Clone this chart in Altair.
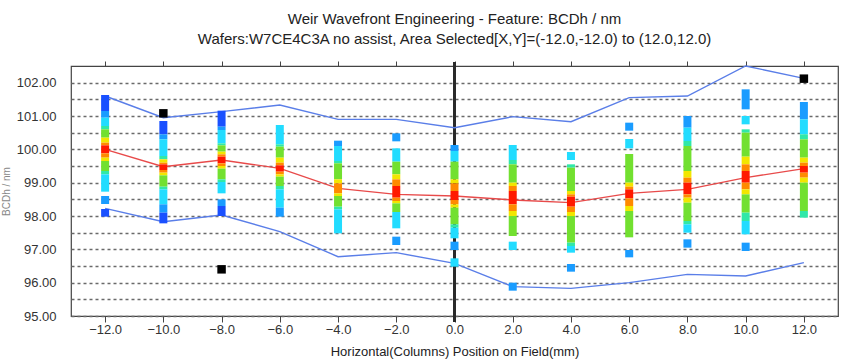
import altair as alt
import pandas as pd

# ---------------- data ----------------
columns = [-12, -10, -8, -6, -4, -2, 0, 2, 4, 6, 8, 10, 12]
mean_line = [100.0, 99.48, 99.68, 99.43, 98.83, 98.65, 98.6, 98.48, 98.4, 98.68, 98.8, 99.15, 99.42]
upper_line = [101.6, 100.95, 101.13, 101.33, 100.9, 100.9, 100.65, 100.98, 100.83, 101.55, 101.6, 102.5, 102.13]
lower_line = [98.23, 97.83, 98.03, 97.53, 96.78, 96.9, 96.58, 95.88, 95.83, 96.0, 96.25, 96.2, 96.6]

outlier_x = [-10, -8, 12]
outlier_y = [101.08, 96.4, 102.12]

x_ticks = [-12, -10, -8, -6, -4, -2, 0, 2, 4, 6, 8, 10, 12]
y_ticks = [95.0, 95.5, 96.0, 96.5, 97.0, 97.5, 98.0, 98.5, 99.0, 99.5,
           100.0, 100.5, 101.0, 101.5, 102.0]

# colour bands per column: [top, bottom, level]  (0 red ... 7 blue)
seg_m12 = [[101.63, 101.15, 7], [101.15, 100.95, 6], [100.95, 100.7, 5], [100.7, 100.6, 4],
           [100.6, 100.35, 3], [100.35, 100.2, 2], [100.2, 100.12, 1], [100.12, 99.88, 0],
           [99.88, 99.75, 1], [99.75, 99.65, 2], [99.65, 99.35, 3], [99.35, 99.25, 4],
           [99.25, 98.73, 5], [98.6, 98.36, 6], [98.21, 97.98, 7]]
seg_m10 = [[100.85, 100.45, 7], [100.45, 100.3, 6], [100.3, 99.8, 5], [99.8, 99.7, 4],
           [99.7, 99.6, 2], [99.6, 99.55, 1], [99.55, 99.38, 0], [99.38, 99.3, 1],
           [99.3, 99.22, 2], [99.22, 98.88, 3], [98.88, 98.8, 4], [98.8, 98.35, 5],
           [98.35, 98.1, 6], [98.1, 97.78, 7]]
seg_m8 = [[101.16, 100.68, 7], [100.68, 100.58, 6], [100.58, 100.18, 5], [100.18, 100.12, 4],
          [100.12, 99.93, 3], [99.93, 99.85, 2], [99.85, 99.78, 1], [99.78, 99.58, 0],
          [99.58, 99.5, 1], [99.5, 99.42, 2], [99.42, 99.1, 3], [99.1, 99.02, 4],
          [99.02, 98.68, 5], [98.5, 98.3, 6], [98.3, 98.0, 7]]
seg_m6 = [[100.73, 100.15, 5], [100.15, 100.08, 4], [100.08, 99.75, 3], [99.75, 99.6, 2],
          [99.6, 99.52, 1], [99.52, 99.33, 0], [99.33, 99.25, 1], [99.25, 99.18, 2],
          [99.18, 98.9, 3], [98.9, 98.8, 4], [98.8, 98.25, 5], [98.25, 97.98, 6]]
seg_m4 = [[100.26, 100.1, 6], [100.1, 99.65, 5], [99.65, 99.58, 4], [99.58, 99.1, 3],
          [99.1, 98.98, 2], [98.98, 98.68, 1], [98.68, 98.6, 2], [98.6, 98.28, 3],
          [98.28, 98.2, 4], [98.2, 97.48, 5]]
seg_m2 = [[100.48, 100.24, 6], [100.03, 99.63, 5], [99.63, 99.25, 3], [99.25, 99.1, 2],
          [99.1, 98.9, 1], [98.9, 98.55, 0], [98.55, 98.45, 1], [98.45, 98.38, 2],
          [98.38, 98.12, 3], [98.12, 97.63, 5], [97.38, 97.13, 6]]
seg_0 = [[100.13, 99.95, 6], [99.95, 99.63, 5], [99.63, 99.1, 3], [99.1, 98.98, 2],
         [98.98, 98.75, 1], [98.75, 98.48, 0], [98.48, 98.35, 1], [98.35, 98.25, 2],
         [98.25, 97.75, 3], [97.75, 97.65, 4], [97.65, 97.33, 5], [97.23, 96.98, 6],
         [96.73, 96.48, 5]]
seg_p2 = [[100.13, 99.68, 5], [99.68, 99.55, 4], [99.55, 99.0, 3], [99.0, 98.9, 2],
          [98.9, 98.75, 1], [98.75, 98.35, 0], [98.35, 98.15, 1], [98.15, 98.0, 2],
          [98.0, 97.4, 3], [97.23, 96.98, 5], [96.0, 95.76, 6]]
seg_p4 = [[99.92, 99.68, 5], [99.55, 99.45, 4], [99.45, 98.75, 3], [98.75, 98.65, 2],
          [98.65, 98.58, 1], [98.58, 98.28, 0], [98.28, 98.12, 1], [98.12, 98.0, 2],
          [98.0, 97.2, 3], [97.2, 97.1, 4], [97.1, 96.9, 5], [96.56, 96.33, 6]]
seg_p6 = [[100.8, 100.56, 6], [100.31, 100.03, 5], [99.86, 99.0, 3], [99.0, 98.88, 2],
          [98.88, 98.8, 1], [98.8, 98.53, 0], [98.53, 98.3, 1], [98.3, 98.15, 2],
          [98.15, 97.36, 3], [96.98, 96.76, 6]]
seg_p8 = [[101.0, 100.65, 6], [100.65, 100.25, 5], [100.25, 100.1, 4], [100.1, 99.35, 3],
          [99.35, 99.15, 2], [99.15, 99.0, 1], [99.0, 98.65, 0], [98.65, 98.55, 1],
          [98.55, 98.4, 2], [98.4, 97.85, 3], [97.85, 97.75, 4], [97.75, 97.5, 5],
          [97.3, 97.05, 6]]
seg_p10 = [[101.8, 101.2, 6], [101.0, 100.75, 5], [100.6, 100.5, 4], [100.5, 99.78, 3],
           [99.78, 99.55, 2], [99.55, 99.35, 1], [99.35, 99.0, 0], [99.0, 98.8, 1],
           [98.8, 98.65, 2], [98.65, 98.1, 3], [98.1, 97.85, 4], [97.85, 97.45, 5],
           [97.2, 96.95, 6]]
seg_p12 = [[101.42, 100.9, 6], [100.9, 100.45, 5], [100.45, 100.3, 4], [100.3, 99.75, 3],
           [99.75, 99.6, 2], [99.6, 99.5, 1], [99.5, 99.3, 0], [99.3, 99.15, 1],
           [99.15, 99.0, 2], [99.0, 98.15, 3], [98.15, 97.95, 4]]

level_colors = ["#ff1a00", "#ff8a00", "#f2e600", "#72e030", "#30e8a8", "#22dcff", "#1a9cff", "#1a50ff"]

# ---------------- tables ----------------
all_segs = [seg_m12, seg_m10, seg_m8, seg_m6, seg_m4, seg_m2, seg_0,
            seg_p2, seg_p4, seg_p6, seg_p8, seg_p10, seg_p12]
rows = []
for c, segs in zip(columns, all_segs):
    for top, bot, lev in segs:
        rows.append({"x": c, "top": top, "bot": bot, "level": lev})
seg_df = pd.DataFrame(rows)

line_df = pd.DataFrame({"x": columns, "mean": mean_line, "upper": upper_line, "lower": lower_line})
out_df = pd.DataFrame({"x": outlier_x, "y": outlier_y})
zero_df = pd.DataFrame({"x": [0]})

FONT = "Liberation Sans"
xs = alt.Scale(domain=[-13, 13], nice=False, zero=False)
ys = alt.Scale(domain=[95, 102.5], nice=False, zero=False)

grid_layer = alt.Chart(line_df).mark_line(opacity=0).encode(
    x=alt.X("x:Q", scale=xs, axis=alt.Axis(
        values=x_ticks, format=".1f", title="Horizontal(Columns) Position on Field(mm)",
        grid=False, domain=False, tickSize=6, tickColor="#444", labelColor="#333",
        labelFont=FONT, labelFontSize=13, labelPadding=1, titleFont=FONT, titleFontSize=13,
        titleFontWeight="normal", titleColor="#222", titlePadding=9)),
    y=alt.Y("mean:Q", scale=ys, axis=alt.Axis(
        values=y_ticks, grid=True, gridDash=[3, 3], gridColor="#6a6a6a", gridWidth=1.5,
        labelExpr="datum.value % 1 == 0 ? format(datum.value, '.2f') : ''",
        tickSize=0, domain=False, labelPadding=15, labelColor="#333", labelFont=FONT,
        labelFontSize=13, title="BCDh / nm", titleFont=FONT, titleFontSize=10,
        titleFontWeight="normal", titleColor="#888", titleAngle=-90, titleX=-62,
        titleY=125, titleAlign="center", titleBaseline="alphabetic")),
)

top_axis = alt.Chart(line_df).mark_line(opacity=0).encode(
    x=alt.X("x:Q", scale=xs, axis=alt.Axis(orient="top", values=x_ticks, labels=False,
            grid=False, domain=False, tickSize=5, tickColor="#444", title=None)),
    y=alt.Y("mean:Q", scale=ys, axis=None),
)

zero_rule = alt.Chart(zero_df).mark_rule(color="#2a2a2a", strokeWidth=3).encode(
    x=alt.X("x:Q", scale=xs, axis=None), y=alt.value(-4), y2=alt.value(256))

upper = alt.Chart(line_df).mark_line(color="#5a7ee8", strokeWidth=1.4).encode(
    x=alt.X("x:Q", scale=xs, axis=None), y=alt.Y("upper:Q", scale=ys, axis=None))
lower = alt.Chart(line_df).mark_line(color="#5a7ee8", strokeWidth=1.4).encode(
    x=alt.X("x:Q", scale=xs, axis=None), y=alt.Y("lower:Q", scale=ys, axis=None))
mean = alt.Chart(line_df).mark_line(color="#e84a4a", strokeWidth=1.4).encode(
    x=alt.X("x:Q", scale=xs, axis=None), y=alt.Y("mean:Q", scale=ys, axis=None))

stripes = alt.Chart(seg_df).mark_bar(size=8, orient="vertical").encode(
    x=alt.X("x:Q", scale=xs, axis=None),
    y=alt.Y("top:Q", scale=ys, axis=None),
    y2="bot:Q",
    color=alt.Color("level:O", scale=alt.Scale(domain=list(range(8)), range=level_colors), legend=None),
)

outliers = alt.Chart(out_df).mark_square(size=72, color="#000", opacity=1, filled=True).encode(
    x=alt.X("x:Q", scale=xs, axis=None), y=alt.Y("y:Q", scale=ys, axis=None))

chart = alt.layer(grid_layer, top_axis, zero_rule, upper, lower, mean, stripes, outliers).resolve_axis(
    x="independent", y="independent"
).properties(
    width=767, height=250,
    autosize=alt.AutoSizeParams(type="none"),
    padding={"left": 71, "top": 66, "right": 8, "bottom": 44},
    title=alt.TitleParams(
        text=["Weir Wavefront Engineering - Feature: BCDh / nm",
              "Wafers:W7CE4C3A  no assist, Area Selected[X,Y]=(-12.0,-12.0) to (12.0,12.0)"],
        font=FONT, fontSize=15, fontWeight="normal", color="#222", anchor="middle",
        lineHeight=20, offset=14),
).configure_view(stroke="#444", strokeWidth=1.2)

chart.save("out.html", embed_options={"renderer": "svg", "actions": False})
